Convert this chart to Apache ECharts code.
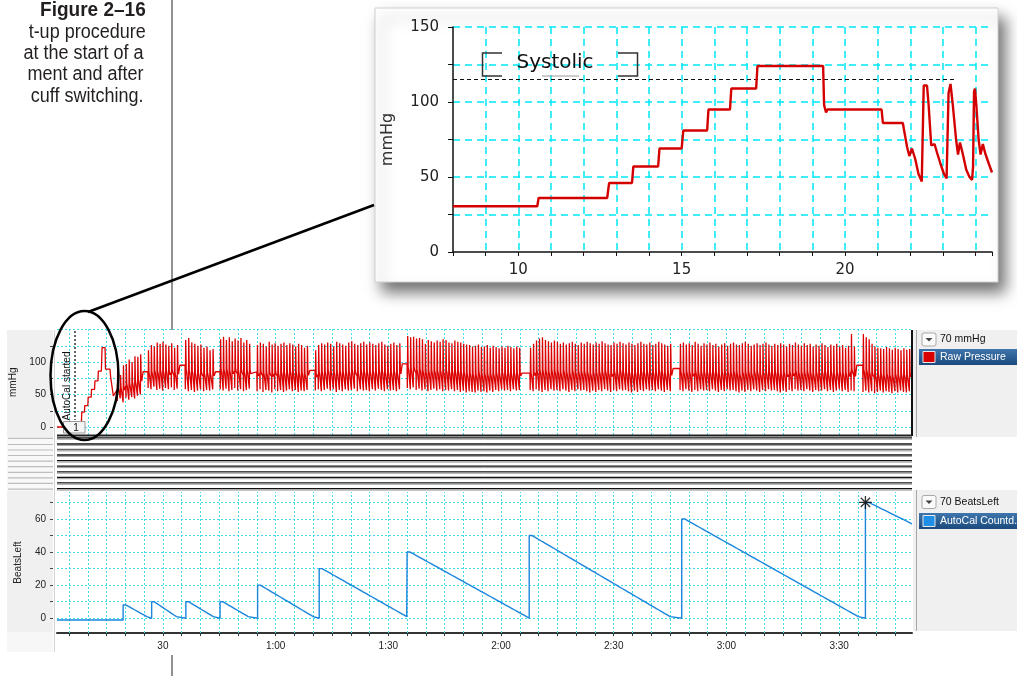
<!DOCTYPE html>
<html><head><meta charset="utf-8">
<script src="https://cdn.jsdelivr.net/npm/echarts@6/dist/echarts.min.js"></script>
<style>html,body{margin:0;padding:0;background:#fff}#c{width:1017px;height:676px}</style>
</head><body><div id="c"></div>
<script>
// ---------------- DATA ----------------
const captionTitle = 'Figure 2–16';
const captionLines = ['t-up procedure', 'at the start of a', 'ment and after', 'cuff switching.'];

// Inset (zoom of AutoCal ramp): time (s) and pressure (mmHg) vertices
const insetX = [8, 10.58, 10.62, 12.72, 12.78, 13.48, 13.52, 14.28, 14.32, 15.0, 15.05, 15.78, 15.82, 16.48, 16.52, 17.28, 17.32, 19.33, 19.36, 19.42, 19.46, 21.12, 21.16, 21.77,
  21.90, 21.97, 22.05, 22.15, 22.25, 22.35, 22.41, 22.51, 22.56, 22.64, 22.74, 22.82, 22.92, 23.03, 23.11, 23.17, 23.23, 23.30, 23.40, 23.46, 23.52, 23.61, 23.71, 23.81, 23.89, 23.92, 23.95, 23.98, 24.02, 24.09, 24.15, 24.22, 24.29, 24.40, 24.50];
const insetY = [30.5, 30.5, 36, 36, 46, 46, 57, 57, 69, 69, 81, 81, 95, 95, 109, 109, 124, 124, 98, 93, 95, 95, 86, 86,
  70, 64, 69, 62, 52, 47, 111, 111, 98, 71, 72, 66, 59, 52, 49, 106, 112, 98, 75, 65, 73, 65, 55, 50, 48, 57, 107, 109, 98, 75, 65, 72, 66, 59, 53];
const systolicLevel = 115;
const systolicRange = [8, 23.35];
const systolicLabel = 'Systolic';

// Main raw pressure: initial AutoCal ramp (time s, mmHg)
const rampT = [1.8, 7.4, 7.5, 8.3, 8.4, 9.1, 9.2, 10.0, 10.1, 10.9, 11.0, 11.8, 11.9, 12.7, 12.8, 13.6, 13.7, 13.8, 14.6, 14.7, 15.9, 16.1, 16.6, 16.8, 17.2];
const rampV = [0, 0, 8, 8, 23, 23, 33, 33, 46, 46, 58, 58, 71, 71, 86, 86, 104, 122, 122, 89, 89, 76, 76, 48, 48];

// Beat segments (time s) with per-beat systolic peaks and diastolic troughs (mmHg)
const segStart = [17.8, 26.0, 35.9, 45.2, 55.0, 70.5, 95.0, 127.7, 167.6, 216.3];
const segEnd = [24.7, 34.5, 44.0, 53.7, 69.1, 93.7, 125.6, 165.8, 214.7, 229.4];
const gapLevels = [85, 95, 85, 85, 87, 97, 83, 90, 95];
const sysPeaks = [
  [92, 80, 95, 97, 104, 100, 109, 108, 112],
  [118, 126, 124, 130, 128, 131, 127, 125, 129, 122, 126],
  [134, 137, 130, 128, 125, 127, 122, 124, 118, 120],
  [135, 139, 134, 138, 132, 136, 133, 137, 130, 134, 128],
  [126, 130, 128, 124, 131, 127, 129, 125, 128, 130, 126, 129, 127, 124, 128, 126, 122, 125],
  [118, 126, 129, 127, 130, 128, 124, 131, 129, 127, 125, 130, 132, 128, 126, 129, 131, 127, 130, 128, 126, 129, 131, 127, 125, 128, 130, 126, 129],
  [140, 138, 139, 136, 137, 135, 128, 134, 132, 130, 133, 131, 135, 134, 130, 129, 133, 131, 130, 128, 127, 126, 124, 125, 127, 123, 124, 126, 122, 125, 123, 121, 124, 122, 125, 123, 121, 124, 122],
  [122, 128, 133, 136, 138, 134, 132, 130, 133, 131, 128, 130, 127, 129, 131, 128, 126, 130, 128, 131, 129, 127, 130, 128, 132, 129, 127, 126, 130, 128, 131, 129, 127, 130, 128, 126, 129, 131, 128, 127, 130, 126, 128, 131, 129, 127, 125, 128],
  [128, 130, 127, 129, 126, 131, 128, 125, 129, 127, 130, 126, 128, 124, 127, 129, 125, 128, 130, 127, 126, 129, 131, 128, 125, 127, 129, 126, 128, 130, 127, 125, 128, 126, 129, 127, 124, 128, 126, 130, 127, 125, 129, 126, 128, 124, 127, 125, 129, 126, 123, 127, 125, 128, 124, 126, 122, 125, 143, 124],
  [143, 138, 135, 128, 124, 122, 121, 120, 123, 121, 119, 122, 120, 118, 121, 119, 120]
];
const diaTroughs = [
  [40, 44, 38, 45, 42, 46, 44, 48, 50],
  [60, 58, 62, 57, 59, 56, 60, 58, 61, 57, 59],
  [58, 55, 57, 54, 56, 58, 55, 57, 56, 58],
  [58, 56, 59, 55, 57, 60, 56, 58, 55, 57, 59],
  [55, 58, 54, 57, 56, 53, 58, 55, 57, 54, 56, 58, 55, 57, 54, 56, 55, 57],
  [56, 58, 55, 57, 59, 56, 58, 54, 57, 55, 58, 56, 57, 59, 55, 58, 56, 57, 55, 58, 56, 59, 57, 55, 58, 56, 57, 55, 58],
  [60, 58, 61, 57, 59, 56, 58, 55, 57, 59, 56, 58, 55, 57, 56, 58, 55, 57, 54, 56, 53, 55, 54, 53, 56, 54, 55, 53, 56, 54, 57, 55, 58, 56, 57, 55, 58, 56, 57],
  [57, 55, 58, 56, 54, 57, 55, 58, 56, 57, 55, 58, 56, 54, 57, 55, 58, 56, 57, 55, 53, 56, 54, 57, 55, 58, 56, 54, 57, 55, 58, 56, 57, 55, 53, 56, 54, 57, 55, 58, 56, 57, 55, 58, 56, 54, 57, 55],
  [57, 55, 58, 56, 54, 57, 55, 58, 56, 57, 55, 58, 56, 54, 57, 55, 58, 56, 57, 55, 53, 56, 54, 57, 55, 58, 56, 54, 57, 55, 58, 56, 57, 55, 53, 56, 54, 57, 55, 58, 56, 57, 55, 58, 56, 54, 57, 55, 56, 58, 55, 57, 54, 56, 58, 55, 57, 54, 56, 55],
  [54, 56, 53, 55, 52, 54, 56, 53, 55, 54, 52, 55, 53, 56, 54, 53, 55]
];

// AutoCal countdown (BeatsLeft)
const beatsInitial = -1;
const cycleStart = [19.4, 27.0, 36.1, 45.2, 55.2, 71.6, 95.0, 127.5, 168.1, 217.0];
const cycleLastTime = [25.7, 33.6, 43.4, 52.7, 70.0, 94.9, 126.8, 165.0, 215.1, 228.6];
const cycleCounts = [
  [8, 7, 6, 5, 4, 3, 2, 1, 0],
  [10, 9, 8, 7, 6, 5, 4, 3, 2, 1, 0],
  [10, 9, 8, 7, 6, 5, 4, 3, 2, 1, 0],
  [10, 9, 8, 7, 6, 5, 4, 3, 2, 1, 0],
  [20, 19, 18, 17, 16, 15, 14, 13, 12, 11, 10, 9, 8, 7, 6, 5, 4, 3, 2, 1, 0],
  [30, 29, 28, 27, 26, 25, 24, 23, 22, 21, 20, 19, 18, 17, 16, 15, 14, 13, 12, 11, 10, 9, 8, 7, 6, 5, 4, 3, 2, 1, 0],
  [40, 39, 38, 37, 36, 35, 34, 33, 32, 31, 30, 29, 28, 27, 26, 25, 24, 23, 22, 21, 20, 19, 18, 17, 16, 15, 14, 13, 12, 11, 10, 9, 8, 7, 6, 5, 4, 3, 2, 1, 0],
  [50, 49, 48, 47, 46, 45, 44, 43, 42, 41, 40, 39, 38, 37, 36, 35, 34, 33, 32, 31, 30, 29, 28, 27, 26, 25, 24, 23, 22, 21, 20, 19, 18, 17, 16, 15, 14, 13, 12, 11, 10, 9, 8, 7, 6, 5, 4, 3, 2, 1, 0],
  [60, 59, 58, 57, 56, 55, 54, 53, 52, 51, 50, 49, 48, 47, 46, 45, 44, 43, 42, 41, 40, 39, 38, 37, 36, 35, 34, 33, 32, 31, 30, 29, 28, 27, 26, 25, 24, 23, 22, 21, 20, 19, 18, 17, 16, 15, 14, 13, 12, 11, 10, 9, 8, 7, 6, 5, 4, 3, 2, 1, 0],
  [70, 69, 68, 67, 66, 65, 64, 63, 62, 61, 60, 59, 58, 57]
];
const markerPoint = [217.0, 70];

// Axes ticks / labels
const timeTickValues = [30, 60, 90, 120, 150, 180, 210];
const timeTickLabels = ['30', '1:00', '1:30', '2:00', '2:30', '3:00', '3:30'];
const pressureLabelValues = [0, 50, 100];
const pressureTickValues = [0, 25, 50, 75, 100, 125];
const beatsLabelValues = [0, 20, 40, 60];
const beatsTickValues = [0, 10, 20, 30, 40, 50, 60, 70];
const legendTop = {header: '70 mmHg', item: 'Raw Pressure'};
const legendBottom = {header: '70 BeatsLeft', item: 'AutoCal Countd..'};
const autoCalText = 'AutoCal started';
const eventLabel = '1';

// ---------------- BUILD ----------------
const xMin = 1.8, xMax = 229.4;
const insetData = insetX.map((x, i) => [x, insetY[i]]);

function buildPressure() {
  const pts = [];
  for (let i = 0; i < rampT.length; i++) pts.push([rampT[i], rampV[i]]);
  for (let s = 0; s < segStart.length; s++) {
    const sys = sysPeaks[s], dia = diaTroughs[s];
    const n = Math.min(sys.length, dia.length);
    const p = (segEnd[s] - segStart[s]) / n;
    for (let i = 0; i < n; i++) {
      const t = segStart[s] + i * p;
      const m = dia[i] + (sys[i] - dia[i]) / 3;
      pts.push([t, m]);
      pts.push([t + 0.08 * p, dia[i]]);
      pts.push([t + 0.2 * p, sys[i]]);
      pts.push([t + 0.36 * p, m + 5]);
      pts.push([t + 0.55 * p, m]);
    }
    if (s < gapLevels.length) {
      pts.push([segEnd[s], gapLevels[s]]);
      pts.push([segStart[s + 1], gapLevels[s]]);
    }
  }
  return pts;
}
function buildBeats() {
  const pts = [[xMin, beatsInitial]];
  let last = beatsInitial;
  for (let c = 0; c < cycleStart.length; c++) {
    const vals = cycleCounts[c];
    const dt = (cycleLastTime[c] - cycleStart[c]) / (vals.length - 1);
    for (let k = 0; k < vals.length; k++) pts.push([cycleStart[c] + k * dt, vals[k]]);
    last = vals[vals.length - 1];
  }
  pts.push([xMax, last]);
  return pts;
}
const gridX = [];
for (let t = 5; t < xMax; t += 5) gridX.push(t);

const cyanMain = '#3fdcea';
function gridMarkLines(yVals) {
  return {
    silent: true, z: 1, symbol: ['none', 'none'], animation: false,
    label: {show: false}, emphasis: {disabled: true},
    lineStyle: {color: cyanMain, type: [2, 2], width: 1},
    data: gridX.map(v => ({xAxis: v})).concat(yVals.map(v => ({yAxis: v})))
  };
}

const uiFont = 'Liberation Sans, Arial, sans-serif';
const insetFont = 'DejaVu Sans, Verdana, sans-serif';
const capFamily = '"Liberation Sans", Arial, sans-serif';

function txt(text, x, y, o) {
  return {type: 'text', z: 60, style: Object.assign({text, x, y, fill: '#111', fontFamily: uiFont, fontSize: 10, textVerticalAlign: 'middle'}, o || {})};
}
function ln(x1, y1, x2, y2, stroke, w, extra) {
  return Object.assign({type: 'line', z: 60, shape: {x1, y1, x2, y2}, style: {stroke, lineWidth: w}}, extra || {});
}

const graphics = [];
// inset panel
graphics.push({type: 'rect', z: -10, shape: {x: 375, y: 8, width: 623, height: 274}, style: {fill: '#fff', stroke: '#cfcfcf', lineWidth: 1, shadowBlur: 14, shadowOffsetX: 7, shadowOffsetY: 10, shadowColor: 'rgba(0,0,0,0.55)'}});
// caption
graphics.push({type: 'text', z: 60, x: 145.7, y: 10, scaleX: 0.95,
  style: {text: captionTitle, x: 0, y: 0, textAlign: 'right', textVerticalAlign: 'middle', fontFamily: capFamily, fontWeight: 'bold', fontSize: 20, fill: '#231f20'}});
captionLines.forEach((s, i) => {
  graphics.push({type: 'text', z: 60, x: i === 0 ? 145.7 : 143.5, y: 32 + i * 21.4, scaleX: 0.9,
    style: {text: s, x: 0, y: 0, textAlign: 'right', textVerticalAlign: 'middle', fontFamily: capFamily, fontSize: 20, fill: '#231f20'}});
});
graphics.push(ln(172, 0, 172, 330, '#6d6d6d', 1.5));
graphics.push(ln(172, 655, 172, 676, '#6d6d6d', 1.5));
// left sidebars
graphics.push({type: 'rect', z: -10, shape: {x: 7, y: 330, width: 46, height: 107}, style: {fill: '#f0f0f0'}});
graphics.push({type: 'rect', z: -10, shape: {x: 7, y: 437, width: 46, height: 54}, style: {fill: '#f8f8f8'}});
graphics.push({type: 'rect', z: -10, shape: {x: 7, y: 491, width: 46, height: 141}, style: {fill: '#f0f0f0'}});
graphics.push({type: 'rect', z: -10, shape: {x: 7, y: 632, width: 46, height: 20}, style: {fill: '#f7f7f7'}});
graphics.push(ln(54.5, 330, 54.5, 652, '#d2d2d2', 1, {z: -9}));
// right legend panels
graphics.push({type: 'rect', z: -10, shape: {x: 913, y: 330, width: 104, height: 107}, style: {fill: '#f0f0f0'}});
graphics.push({type: 'rect', z: -10, shape: {x: 913, y: 490, width: 104, height: 141}, style: {fill: '#f0f0f0'}});
graphics.push(ln(916.5, 330, 916.5, 437, '#a8a8a8', 1, {z: -9}));
graphics.push(ln(916.5, 490, 916.5, 631, '#a8a8a8', 1, {z: -9}));
// top panel borders
graphics.push(ln(912, 330, 912, 436, '#111', 2));
graphics.push(ln(57, 435.5, 912, 435.5, '#222', 2));
// middle collapsed band
[437.8, 444, 449.5, 455, 460.7, 466.2, 471.8, 477.3, 482.8, 488.7].forEach((y, i) => {
  graphics.push(ln(57, y, 912, y, i === 2 ? '#666' : '#111', 1.3));
  graphics.push(ln(57, y + 1.4, 912, y + 1.4, '#9a9a9a', 1));
  graphics.push(ln(8, y + 0.5, 53, y + 0.5, '#bdbdbd', 1.2));
});
// legends
function legend(yHead, yRow, o, swatch) {
  graphics.push({type: 'rect', z: 60, shape: {x: 922, y: yHead - 6.5, width: 14, height: 13, r: 2}, style: {fill: '#fbfbfb', stroke: '#a9a9a9', lineWidth: 1}});
  graphics.push({type: 'polygon', z: 61, shape: {points: [[925.5, yHead - 1.5], [932.5, yHead - 1.5], [929, yHead + 2]]}, style: {fill: '#444'}});
  graphics.push(txt(o.header, 940, yHead, {fontSize: 10.5, fill: '#111'}));
  graphics.push({type: 'rect', z: 60, shape: {x: 919, y: yRow - 8, width: 98, height: 16}, style: {fill: new echarts.graphic.LinearGradient(0, 0, 0, 1, [{offset: 0, color: '#3f76ad'}, {offset: 1, color: '#1b4a7c'}])}});
  graphics.push({type: 'rect', z: 61, shape: {x: 923, y: yRow - 5.5, width: 12, height: 11}, style: {fill: swatch, stroke: '#e8e8e8', lineWidth: 1}});
  graphics.push(txt(o.item, 940, yRow, {fontSize: 10.5, fill: '#fff'}));
}
legend(339.5, 357, legendTop, '#d80000');
legend(502, 521, legendBottom, '#1f8fe8');
// AutoCal annotation
graphics.push(ln(75, 331, 75, 420, '#333', 1.5, {style: {stroke: '#333', lineWidth: 1.5, lineDash: [2, 2]}}));
graphics.push({type: 'text', z: 60, x: 67, y: 386, rotation: Math.PI / 2, style: {text: autoCalText, textAlign: 'center', textVerticalAlign: 'middle', fill: '#111', fontFamily: uiFont, fontSize: 10}});
graphics.push({type: 'rect', z: 60, shape: {x: 63.5, y: 421.5, width: 21.5, height: 11.5}, style: {fill: '#f5f5f5', stroke: '#9a9a9a', lineWidth: 1}});
graphics.push(txt(eventLabel, 76, 428, {textAlign: 'center', fontSize: 10}));
// Systolic bracket label in inset
graphics.push({type: 'polyline', z: 60, shape: {points: [[502, 53], [482.5, 53], [482.5, 76], [502, 76]]}, style: {stroke: '#333', lineWidth: 1.5, fill: null}});
graphics.push({type: 'polyline', z: 60, shape: {points: [[618, 53], [637.5, 53], [637.5, 76], [618, 76]]}, style: {stroke: '#333', lineWidth: 1.5, fill: null}});
graphics.push(ln(542, 76, 579, 76, '#999', 1));
graphics.push(txt(systolicLabel, 555, 63, {textAlign: 'center', fontFamily: insetFont, fontSize: 20, fill: '#111'}));
// ellipse and connector
graphics.push({type: 'ellipse', z: 100, shape: {cx: 84.5, cy: 375.5, rx: 34, ry: 64.5}, style: {fill: null, stroke: '#000', lineWidth: 2.5}});
graphics.push(ln(88, 312, 374, 205, '#000', 2.5, {z: 100}));

const option = {
  animation: false,
  backgroundColor: '#fff',
  textStyle: {fontFamily: uiFont},
  grid: [
    {left: 453, top: 27, width: 539, height: 225},
    {left: 57, top: 329.5, width: 855, height: 105.5},
    {left: 57, top: 492, width: 855, height: 141}
  ],
  xAxis: [
    {gridIndex: 0, type: 'value', min: 8, max: 24.5, interval: 1,
      axisLine: {onZero: false, lineStyle: {color: '#111', width: 1.5}},
      axisTick: {length: 4, lineStyle: {color: '#111'}},
      axisLabel: {formatter: v => (v % 5 === 0 ? String(v) : ''), fontSize: 15, color: '#222', fontFamily: insetFont, margin: 11},
      splitLine: {show: true, showMinLine: false, showMaxLine: false, lineStyle: {color: '#00e8f8', type: [7, 5], width: 1.5}}},
    {gridIndex: 1, type: 'value', min: xMin, max: xMax,
      axisLine: {show: false, onZero: false}, axisTick: {show: false}, axisLabel: {show: false}, splitLine: {show: false}},
    {gridIndex: 2, type: 'value', min: xMin, max: xMax,
      axisLine: {onZero: false, lineStyle: {color: '#333', width: 2}},
      axisTick: {customValues: gridX, length: 3, lineStyle: {color: '#333'}},
      axisLabel: {customValues: timeTickValues, formatter: v => { const i = timeTickValues.indexOf(v); return i >= 0 ? timeTickLabels[i] : ''; }, fontSize: 10, color: '#222', margin: 8},
      splitLine: {show: false}}
  ],
  yAxis: [
    {gridIndex: 0, type: 'value', min: 0, max: 150, interval: 25,
      name: 'mmHg', nameLocation: 'middle', nameRotate: 90, nameGap: 57,
      nameTextStyle: {fontSize: 16, color: '#333', fontFamily: insetFont},
      axisLine: {show: true, onZero: false, lineStyle: {color: '#111', width: 1.5}},
      axisTick: {show: true, length: 5, lineStyle: {color: '#111'}},
      axisLabel: {formatter: v => (v % 50 === 0 ? String(v) : ''), fontSize: 15, color: '#222', fontFamily: insetFont, margin: 14},
      splitLine: {show: true, showMinLine: false, lineStyle: {color: '#00e8f8', type: [7, 5], width: 1.5}}},
    {gridIndex: 1, type: 'value', min: -12.3, max: 150, offset: 4,
      name: 'mmHg', nameLocation: 'middle', nameRotate: 90, nameGap: 30,
      nameTextStyle: {fontSize: 10, color: '#222'},
      axisLine: {show: false, onZero: false},
      axisTick: {show: true, customValues: pressureTickValues, length: 3, lineStyle: {color: '#444'}},
      axisLabel: {customValues: pressureLabelValues, fontSize: 10, color: '#222', margin: 7},
      splitLine: {show: false}},
    {gridIndex: 2, type: 'value', min: -8.9, max: 76.3, offset: 4,
      name: 'BeatsLeft', nameLocation: 'middle', nameRotate: 90, nameGap: 30,
      nameTextStyle: {fontSize: 10, color: '#222'},
      axisLine: {show: false, onZero: false},
      axisTick: {show: true, customValues: beatsTickValues, length: 3, lineStyle: {color: '#444'}},
      axisLabel: {customValues: beatsLabelValues, fontSize: 10, color: '#222', margin: 7},
      splitLine: {show: false}}
  ],
  series: [
    {type: 'line', xAxisIndex: 0, yAxisIndex: 0, z: 3, data: [[systolicRange[0], systolicLevel], [systolicRange[1], systolicLevel]],
      symbol: 'none', silent: true, lineStyle: {color: '#111', width: 1, type: [4, 3]}},
    {type: 'line', xAxisIndex: 0, yAxisIndex: 0, z: 4, data: insetData, symbol: 'none', silent: true,
      lineStyle: {color: '#d40000', width: 2.4}},
    {type: 'line', xAxisIndex: 1, yAxisIndex: 1, z: 3, data: buildPressure(), symbol: 'none', silent: true,
      lineStyle: {color: '#dd0000', width: 1.3}, markLine: gridMarkLines([0, 25, 50, 75, 100, 125, 150])},
    {type: 'line', xAxisIndex: 2, yAxisIndex: 2, z: 3, data: buildBeats(), step: 'end', symbol: 'none', silent: true,
      lineStyle: {color: '#1a86dc', width: 1.4}, markLine: gridMarkLines(beatsTickValues)},
    {type: 'scatter', xAxisIndex: 2, yAxisIndex: 2, z: 5, data: [markerPoint], silent: true,
      symbol: 'path://M0,-7L0,7M-7,0L7,0M-5,-5L5,5M-5,5L5,-5', symbolSize: 13,
      itemStyle: {color: 'none', borderColor: '#000', borderWidth: 1.3}}
  ],
  graphic: {elements: graphics}
};
const chart = echarts.init(document.getElementById('c'), null, {renderer: 'canvas'});
chart.setOption(option);
</script></body></html>
